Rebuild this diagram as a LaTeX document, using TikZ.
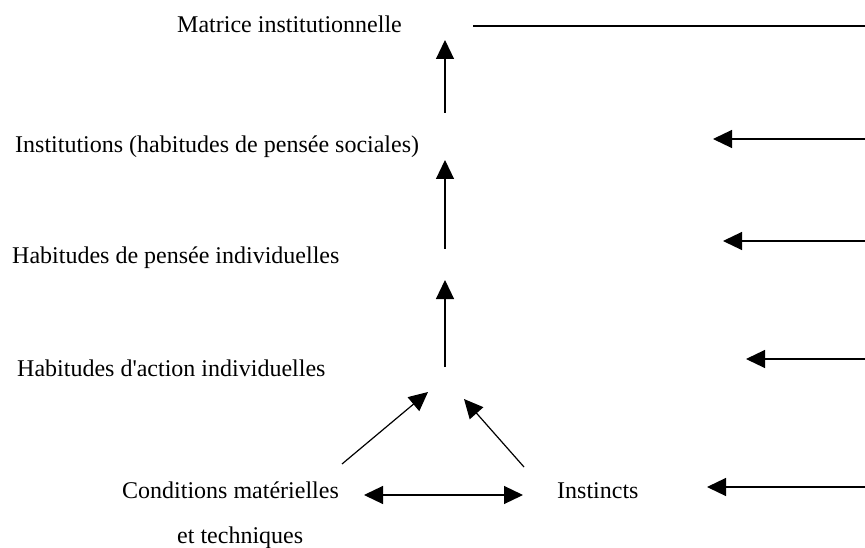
\documentclass[tikz,border=0pt]{standalone}
\usepackage{fontspec}
\setmainfont{Liberation Serif}
\usetikzlibrary{arrows.meta}
\begin{document}
\begin{tikzpicture}[x=1pt,y=-1pt,
  lbl/.style={anchor=base west,inner sep=0pt,font=\fontsize{24}{28}\selectfont},
  conn/.style={line width=1.2pt},
  arr/.style={conn,-{Triangle[length=19pt,width=18pt]}},
  darr/.style={conn,{Triangle[length=19pt,width=18pt]}-{Triangle[length=19pt,width=18pt]}}]
\useasboundingbox (0,0) rectangle (865,548);
% labels
\node[lbl] (mat) at (177,33) {Matrice institutionnelle};
\node[lbl] (inst) at (15,153) {Institutions (habitudes de pensée sociales)};
\node[lbl] (hpi) at (12,263) {Habitudes de pensée individuelles};
\node[lbl] (hai) at (17,376) {Habitudes d\textquotesingle action individuelles};
\node[lbl] (cond) at (122,498) {Conditions matérielles};
\node[lbl] (tech) at (177,543) {et techniques};
\node[lbl] (instc) at (557,498) {Instincts};
% coordinates
\coordinate (v1a) at (445,113); \coordinate (v1b) at (445,40);
\coordinate (v2a) at (445,249); \coordinate (v2b) at (445,160);
\coordinate (v3a) at (445,367); \coordinate (v3b) at (445,280);
\coordinate (d1a) at (342,464); \coordinate (d1b) at (428,392);
\coordinate (d2a) at (524,467); \coordinate (d2b) at (464,399);
\coordinate (ha) at (364,495); \coordinate (hb) at (523,495);
\coordinate (t0a) at (473,26); \coordinate (t0b) at (865,26);
\coordinate (r1a) at (865,139); \coordinate (r1b) at (713,139);
\coordinate (r2a) at (865,241); \coordinate (r2b) at (723,241);
\coordinate (r3a) at (865,359); \coordinate (r3b) at (746,359);
\coordinate (r4a) at (865,487); \coordinate (r4b) at (707,487);
% connectors
\draw[arr] (v1a) -- (v1b);
\draw[arr] (v2a) -- (v2b);
\draw[arr] (v3a) -- (v3b);
\draw[arr] (d1a) -- (d1b);
\draw[arr] (d2a) -- (d2b);
\draw[darr] (ha) -- (hb);
\draw[conn] (t0a) -- (t0b);
\draw[arr] (r1a) -- (r1b);
\draw[arr] (r2a) -- (r2b);
\draw[arr] (r3a) -- (r3b);
\draw[arr] (r4a) -- (r4b);
\end{tikzpicture}
\end{document}
